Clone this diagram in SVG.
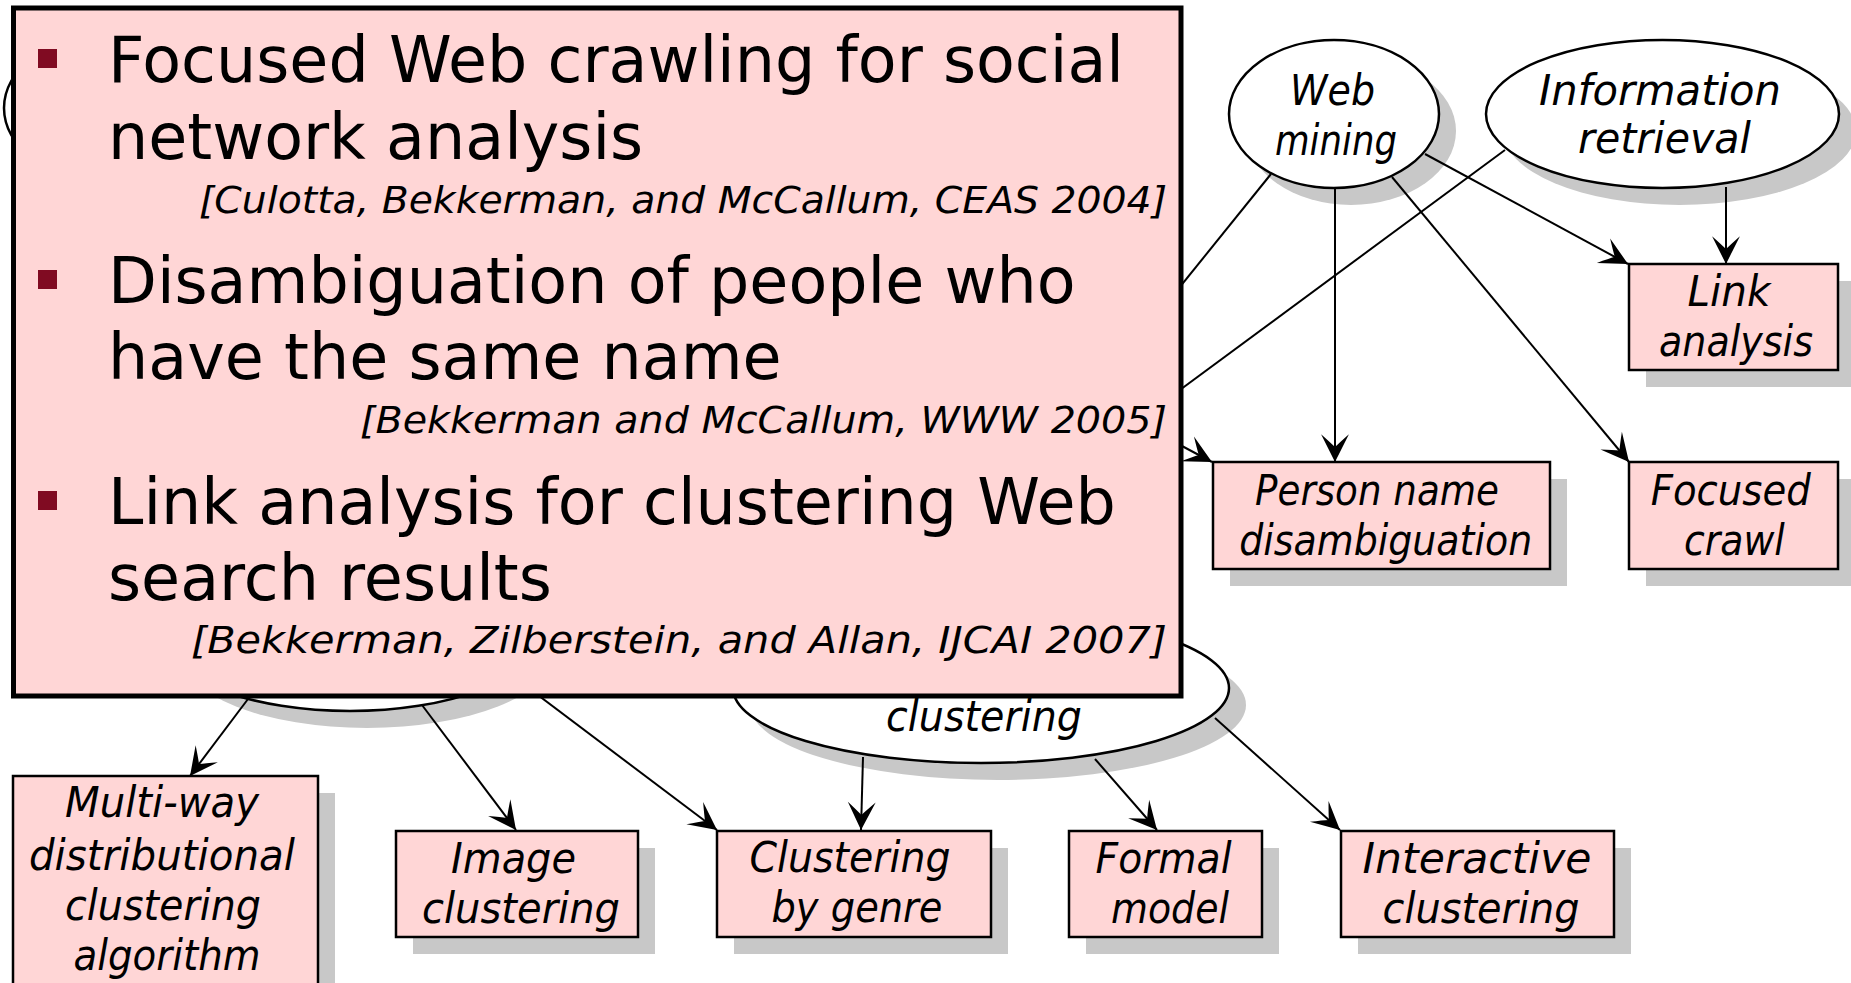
<svg xmlns="http://www.w3.org/2000/svg" width="1851" height="983" viewBox="0 0 1851 983">
  <style>
    .node { fill: #FFD6D6; stroke: #000; stroke-width: 2.5; }
    .oval { fill: #FFFFFF; stroke: #000; stroke-width: 2.5; }
    .shade { fill: #C8C8C8; stroke: none; }
    .label { fill: #000; font-family: "DejaVu Sans", Verdana, sans-serif; font-style: italic; font-size: 43px; text-anchor: middle; }
    .edge { fill: none; stroke: #000; stroke-width: 2; }
    .arrow { marker-end: url(#head); }
    .panel { fill: #FFD6D6; stroke: #000; stroke-width: 5; }
    .bullet { fill: #800B22; }
    .item { fill: #000; font-family: "DejaVu Sans", Verdana, sans-serif; font-size: 63.5px; }
    .cite { fill: #000; font-family: "DejaVu Sans", Verdana, sans-serif; font-style: italic; font-size: 38px; text-anchor: end; }
  </style>
  <defs>
    <marker id="head" markerUnits="userSpaceOnUse" markerWidth="30" markerHeight="30" viewBox="-27 -14 28 28" refX="0" refY="0" orient="auto" overflow="visible">
      <path d="M0,0 L-26,-13 Q-18,-4 -14,0 Q-18,4 -26,13 Z" fill="#000"/>
    </marker>
  </defs>

  <rect width="1851" height="983" fill="#FFFFFF"/>

  <!-- drop shadows, offset down and right -->
  <g id="shadows">
    <ellipse class="shade" cx="1351" cy="131" rx="105" ry="74"/>
    <ellipse class="shade" cx="1679.5" cy="131" rx="176.5" ry="74"/>
    <rect class="shade" x="1646" y="281" width="209" height="106"/>
    <rect class="shade" x="1230" y="479" width="337" height="107"/>
    <rect class="shade" x="1646" y="479" width="209" height="107"/>
    <ellipse class="shade" cx="367" cy="654" rx="186" ry="74"/>
    <ellipse class="shade" cx="998" cy="705" rx="248" ry="75"/>
    <rect class="shade" x="30" y="793" width="305" height="230"/>
    <rect class="shade" x="413" y="848" width="242" height="106"/>
    <rect class="shade" x="734" y="848" width="274" height="106"/>
    <rect class="shade" x="1086" y="848" width="193" height="106"/>
    <rect class="shade" x="1358" y="848" width="273" height="106"/>
  </g>

  <!-- connectors -->
  <g id="connectors">
    <line class="edge arrow" x1="1335" y1="188" x2="1335" y2="462"/>
    <line class="edge arrow" x1="1392" y1="177" x2="1629" y2="462"/>
    <line class="edge arrow" x1="1425" y1="154" x2="1628" y2="264"/>
    <line class="edge arrow" x1="1726" y1="187" x2="1726" y2="264"/>
    <line class="edge" x1="1505" y1="150" x2="1150" y2="412"/>
    <line class="edge" x1="1271" y1="174" x2="1150" y2="324"/>
    <line class="edge arrow" x1="1150" y1="429" x2="1212" y2="462"/>
    <line class="edge arrow" x1="248" y1="699" x2="190" y2="776"/>
    <line class="edge arrow" x1="422" y1="705" x2="516" y2="830"/>
    <line class="edge arrow" x1="490" y1="659" x2="717" y2="830"/>
    <line class="edge arrow" x1="863" y1="757" x2="861" y2="830"/>
    <line class="edge arrow" x1="1095" y1="759" x2="1157" y2="830"/>
    <line class="edge arrow" x1="1215" y1="718" x2="1340" y2="830"/>
  </g>

  <!-- topic nodes -->
  <g id="node-top-left">
    <ellipse class="oval" cx="109" cy="108" rx="105" ry="74"/>
  </g>
  <g id="node-web-mining">
    <ellipse class="oval" cx="1334" cy="114" rx="105" ry="74"/>
    <text class="label" x="1332.5" y="105" textLength="85" lengthAdjust="spacingAndGlyphs">Web</text>
    <text class="label" x="1336" y="155" textLength="122" lengthAdjust="spacingAndGlyphs">mining</text>
  </g>
  <g id="node-information-retrieval">
    <ellipse class="oval" cx="1662.5" cy="114" rx="176.5" ry="74"/>
    <text class="label" x="1660" y="105" textLength="242" lengthAdjust="spacingAndGlyphs">Information</text>
    <text class="label" x="1664.5" y="153" textLength="173" lengthAdjust="spacingAndGlyphs">retrieval</text>
  </g>
  <g id="node-link-analysis">
    <rect class="node" x="1629" y="264" width="209" height="106"/>
    <text class="label" x="1729" y="306" textLength="83" lengthAdjust="spacingAndGlyphs">Link</text>
    <text class="label" x="1736" y="356" textLength="154" lengthAdjust="spacingAndGlyphs">analysis</text>
  </g>
  <g id="node-person-name">
    <rect class="node" x="1213" y="462" width="337" height="107"/>
    <text class="label" x="1377" y="505" textLength="244" lengthAdjust="spacingAndGlyphs">Person name</text>
    <text class="label" x="1385.7" y="555" textLength="293" lengthAdjust="spacingAndGlyphs">disambiguation</text>
  </g>
  <g id="node-focused-crawl">
    <rect class="node" x="1629" y="462" width="209" height="107"/>
    <text class="label" x="1730.7" y="505" textLength="160" lengthAdjust="spacingAndGlyphs">Focused</text>
    <text class="label" x="1734.4" y="555" textLength="101" lengthAdjust="spacingAndGlyphs">crawl</text>
  </g>
  <g id="node-lower-left">
    <ellipse class="oval" cx="350" cy="637" rx="186" ry="74"/>
  </g>
  <g id="node-clustering">
    <ellipse class="oval" cx="981" cy="688" rx="248" ry="75"/>
    <text class="label" x="984" y="731" textLength="196" lengthAdjust="spacingAndGlyphs">clustering</text>
  </g>
  <g id="node-multi-way">
    <rect class="node" x="13" y="776" width="305" height="230"/>
    <text class="label" x="162" y="817" textLength="194" lengthAdjust="spacingAndGlyphs">Multi-way</text>
    <text class="label" x="162" y="870" textLength="266" lengthAdjust="spacingAndGlyphs">distributional</text>
    <text class="label" x="163" y="920" textLength="196" lengthAdjust="spacingAndGlyphs">clustering</text>
    <text class="label" x="167" y="970" textLength="187" lengthAdjust="spacingAndGlyphs">algorithm</text>
  </g>
  <g id="node-image-clustering">
    <rect class="node" x="396" y="831" width="242" height="106"/>
    <text class="label" x="513.5" y="873" textLength="125" lengthAdjust="spacingAndGlyphs">Image</text>
    <text class="label" x="521" y="923" textLength="198" lengthAdjust="spacingAndGlyphs">clustering</text>
  </g>
  <g id="node-genre">
    <rect class="node" x="717" y="831" width="274" height="106"/>
    <text class="label" x="850" y="872" textLength="201" lengthAdjust="spacingAndGlyphs">Clustering</text>
    <text class="label" x="857" y="922" textLength="171" lengthAdjust="spacingAndGlyphs">by genre</text>
  </g>
  <g id="node-formal-model">
    <rect class="node" x="1069" y="831" width="193" height="106"/>
    <text class="label" x="1163.6" y="873" textLength="136" lengthAdjust="spacingAndGlyphs">Formal</text>
    <text class="label" x="1170" y="923" textLength="118" lengthAdjust="spacingAndGlyphs">model</text>
  </g>
  <g id="node-interactive">
    <rect class="node" x="1341" y="831" width="273" height="106"/>
    <text class="label" x="1477" y="873" textLength="229" lengthAdjust="spacingAndGlyphs">Interactive</text>
    <text class="label" x="1481" y="923" textLength="197" lengthAdjust="spacingAndGlyphs">clustering</text>
  </g>

  <!-- publication list panel laid over the graph -->
  <g id="publications">
    <rect class="panel" x="13.5" y="8" width="1167.5" height="688"/>
    <rect class="bullet" x="38" y="49" width="19" height="19"/>
    <text class="item" x="108" y="82">Focused Web crawling for social</text>
    <text class="item" x="108" y="159">network analysis</text>
    <text class="cite" x="1167" y="213" textLength="968" lengthAdjust="spacingAndGlyphs">[Culotta, Bekkerman, and McCallum, CEAS 2004]</text>
    <rect class="bullet" x="38" y="270" width="19" height="19"/>
    <text class="item" x="108" y="303">Disambiguation of people who</text>
    <text class="item" x="108" y="379">have the same name</text>
    <text class="cite" x="1167" y="433" textLength="807" lengthAdjust="spacingAndGlyphs">[Bekkerman and McCallum, WWW 2005]</text>
    <rect class="bullet" x="38" y="491" width="19" height="19"/>
    <text class="item" x="108" y="524">Link analysis for clustering Web</text>
    <text class="item" x="108" y="600">search results</text>
    <text class="cite" x="1167" y="653" textLength="976" lengthAdjust="spacingAndGlyphs">[Bekkerman, Zilberstein, and Allan, IJCAI 2007]</text>
  </g>
</svg>
